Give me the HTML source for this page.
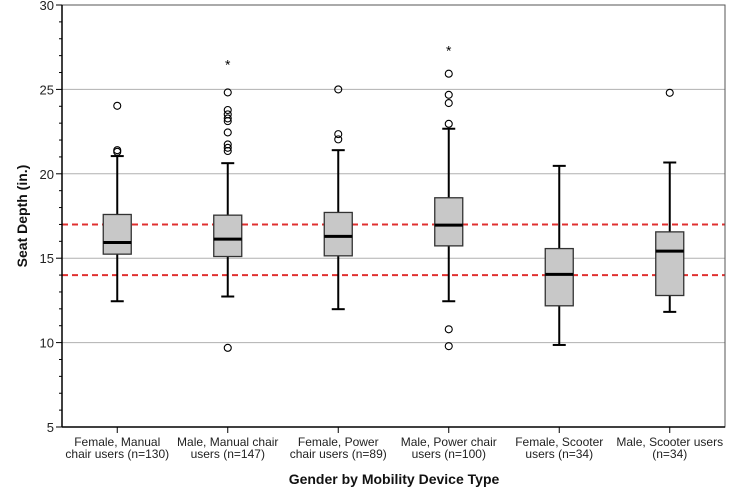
<!DOCTYPE html>
<html><head><meta charset="utf-8"><style>
body{margin:0;background:#fff}
svg{display:block;font-family:"Liberation Sans",Arial,sans-serif}
</style></head><body>
<svg id="chart" width="734" height="501" viewBox="0 0 734 501">
<g id="grid"></g><g id="refs"></g><g id="boxes"></g><g id="axes"></g>
<text x="394" y="484" text-anchor="middle" font-size="14" font-weight="bold" fill="#111">Gender by Mobility Device Type</text>
<text transform="translate(27,216) rotate(-90)" text-anchor="middle" font-size="14" font-weight="bold" fill="#111">Seat Depth (in.)</text>
</svg>
<script>
const categories=[["Female, Manual","chair users (n=130)"],["Male, Manual chair","users (n=147)"],["Female, Power","chair users (n=89)"],["Male, Power chair","users (n=100)"],["Female, Scooter","users (n=34)"],["Male, Scooter users","(n=34)"]];
const q1=[15.24,15.1,15.14,15.73,12.18,12.79];
const medians=[15.93,16.13,16.29,16.96,14.04,15.42];
const q3=[17.59,17.55,17.71,18.58,15.57,16.56];
const whiskerLow=[12.45,12.73,11.98,12.45,9.86,11.82];
const whiskerHigh=[21.05,20.63,21.4,22.67,20.47,20.67];
const outliers=[[24.03,21.4,21.3],[24.82,23.78,23.52,23.28,23.12,22.45,21.74,21.54,21.35,9.69],[25.0,22.35,22.04],[25.93,24.68,24.19,22.96,10.79,9.79],[],[24.8]];
const extremes=[[],[26.54],[],[27.37],[],[]];
const refLines=[17,14];
const yTicks=[5,10,15,20,25,30];
const NS="http://www.w3.org/2000/svg";
const L=62,R=725,T=5,B=427;
function y(v){return B-(v-5)/(30-5)*(B-T);}
function x(i){return L+(i+0.5)*(R-L)/categories.length;}
function mk(p,tag,a){const e=document.createElementNS(NS,tag);for(const k in a)e.setAttribute(k,a[k]);document.getElementById(p).appendChild(e);return e;}
// grid
yTicks.forEach(v=>{if(v>5&&v<30){const g=mk('grid','line',{x1:L,x2:R,y1:y(v),y2:y(v),stroke:'#b0b0b0','stroke-width':1});

}});
// frame
const fr=mk('axes','rect',{x:L,y:T,width:R-L,height:B-T,fill:'none',stroke:'#555','stroke-width':1});


mk('axes','line',{x1:L,x2:L,y1:T,y2:B,stroke:'#000','stroke-width':1.5});
mk('axes','line',{x1:L,x2:R,y1:B,y2:B,stroke:'#000','stroke-width':1.5});
for(let v=5;v<=30;v++){const major=v%5===0;mk('axes','line',{x1:L-(major?6:3),x2:L,y1:y(v),y2:y(v),stroke:'#000','stroke-width':1});}
yTicks.forEach(v=>{const t=mk('axes','text',{x:L-8,y:y(v)+5,'text-anchor':'end','font-size':13,fill:'#222'});t.textContent=v;

});
categories.forEach((c,i)=>{mk('axes','line',{x1:x(i),x2:x(i),y1:B,y2:B+6,stroke:'#000','stroke-width':1});
const t=mk('axes','text',{x:x(i),y:446,'text-anchor':'middle','font-size':12,fill:'#222'});


c.forEach((s,k)=>{const ts=document.createElementNS(NS,'tspan');ts.setAttribute('x',x(i));ts.setAttribute('dy',k?12:0);ts.textContent=s;t.appendChild(ts);});});
// ref lines
refLines.forEach(v=>{const l=mk('refs','line',{x1:L,x2:R,y1:y(v),y2:y(v),stroke:'#e03030','stroke-width':2,'stroke-dasharray':'6,4'});

});
// boxes
categories.forEach((c,i)=>{const cx=x(i),w=28,cap=13;
const g=mk('boxes','g',{});


mk('boxes','line',{x1:cx,x2:cx,y1:y(whiskerHigh[i]),y2:y(q3[i]),stroke:'#000','stroke-width':2});
mk('boxes','line',{x1:cx,x2:cx,y1:y(q1[i]),y2:y(whiskerLow[i]),stroke:'#000','stroke-width':2});
mk('boxes','line',{x1:cx-cap/2,x2:cx+cap/2,y1:y(whiskerHigh[i]),y2:y(whiskerHigh[i]),stroke:'#000','stroke-width':2});
mk('boxes','line',{x1:cx-cap/2,x2:cx+cap/2,y1:y(whiskerLow[i]),y2:y(whiskerLow[i]),stroke:'#000','stroke-width':2});
const b=mk('boxes','rect',{x:cx-w/2,y:y(q3[i]),width:w,height:y(q1[i])-y(q3[i]),fill:'#c8c8c8',stroke:'#333','stroke-width':1.3});


mk('boxes','line',{x1:cx-w/2,x2:cx+w/2,y1:y(medians[i]),y2:y(medians[i]),stroke:'#000','stroke-width':3});
outliers[i].forEach(v=>{const o=mk('boxes','circle',{cx:cx,cy:y(v),r:3.5,fill:'none',stroke:'#000','stroke-width':1.1});

});
extremes[i].forEach(v=>{const s=mk('boxes','text',{x:cx,y:y(v)+6,'text-anchor':'middle','font-size':14,fill:'#000'});s.textContent='*';

});
});
</script>
</body></html>
